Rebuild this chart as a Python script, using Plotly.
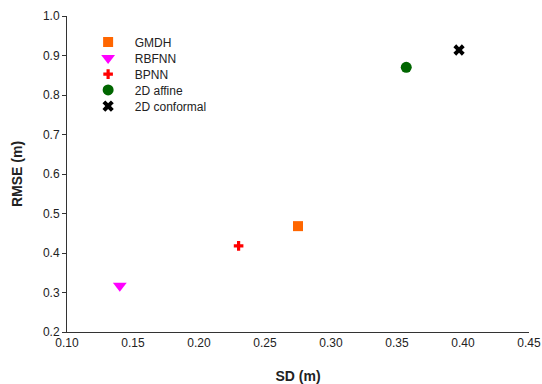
import plotly.graph_objects as go

names = ["GMDH", "RBFNN", "BPNN", "2D affine", "2D conformal"]
sd_values = [0.275, 0.140, 0.230, 0.357, 0.397]
rmse_values = [0.468, 0.317, 0.418, 0.870, 0.914]
symbols = ["square", "triangle-down", "cross", "circle", "x"]
colors = ["#FF6600", "#FF00FF", "#FF0000", "#006600", "#000000"]
sizes = [10, 12, 8, 11, 10]

x_ticks = [0.10, 0.15, 0.20, 0.25, 0.30, 0.35, 0.40, 0.45]
y_ticks = [0.2, 0.3, 0.4, 0.5, 0.6, 0.7, 0.8, 0.9, 1.0]

font = "Liberation Sans, Arial, sans-serif"
legend_ids = ["legend", "legend2", "legend3", "legend4", "legend5"]
legend_rows = [0.918, 0.867, 0.816, 0.766, 0.715]

fig = go.Figure()
for n, xv, yv, s, c, sz, lid in zip(names, sd_values, rmse_values, symbols, colors, sizes, legend_ids):
    fig.add_trace(go.Scatter(x=[xv], y=[yv], mode="markers", name="\u00a0\u00a0" + n,
                             legend=lid,
                             marker=dict(symbol=s, color=c, size=sz, line=dict(width=0))))

legends = {}
for lid, ly in zip(legend_ids, legend_rows):
    legends[lid] = dict(x=0.0457, y=ly, xanchor="left", yanchor="middle",
                        bgcolor="rgba(0,0,0,0)", font=dict(size=12, color="#222"),
                        itemsizing="trace")

fig.update_layout(
    width=542, height=384,
    margin=dict(l=67, r=13, t=16, b=52),
    plot_bgcolor="white", paper_bgcolor="white",
    font=dict(family=font, size=12, color="#222"),
    showlegend=True,
    **legends,
    xaxis2=dict(overlaying="x", anchor="y", side="bottom", range=[0.10, 0.45],
                tickvals=x_ticks, showticklabels=False, ticks="outside", ticklen=4,
                tickcolor="#333", showgrid=False, zeroline=False, showline=False),
)
fig.layout.xaxis.update(range=[0.10, 0.45], tickvals=x_ticks,
                        ticktext=[f"{v:.2f}" for v in x_ticks],
                        showgrid=False, zeroline=False, showline=True, linecolor="#333",
                        linewidth=1, ticks="", automargin=False, ticklabeloverflow="allow",
                        title=dict(text="<b>SD (m)</b>", font=dict(size=14, color="#222"), standoff=23))
fig.layout.yaxis.update(range=[0.2, 1.0], tickvals=y_ticks,
                        ticktext=[f"{v:.1f}" for v in y_ticks],
                        showgrid=False, zeroline=False, showline=True, linecolor="#333",
                        linewidth=1, ticks="outside", ticklen=4, tickcolor="#333",
                        automargin=False,
                        title=dict(text="<b>RMSE (m)</b>", font=dict(size=14, color="#222"), standoff=17))

fig.write_html(
    "out.html",
    config={"displayModeBar": False},
    post_script="document.body.style.margin='0';document.body.style.overflow='hidden';",
)
